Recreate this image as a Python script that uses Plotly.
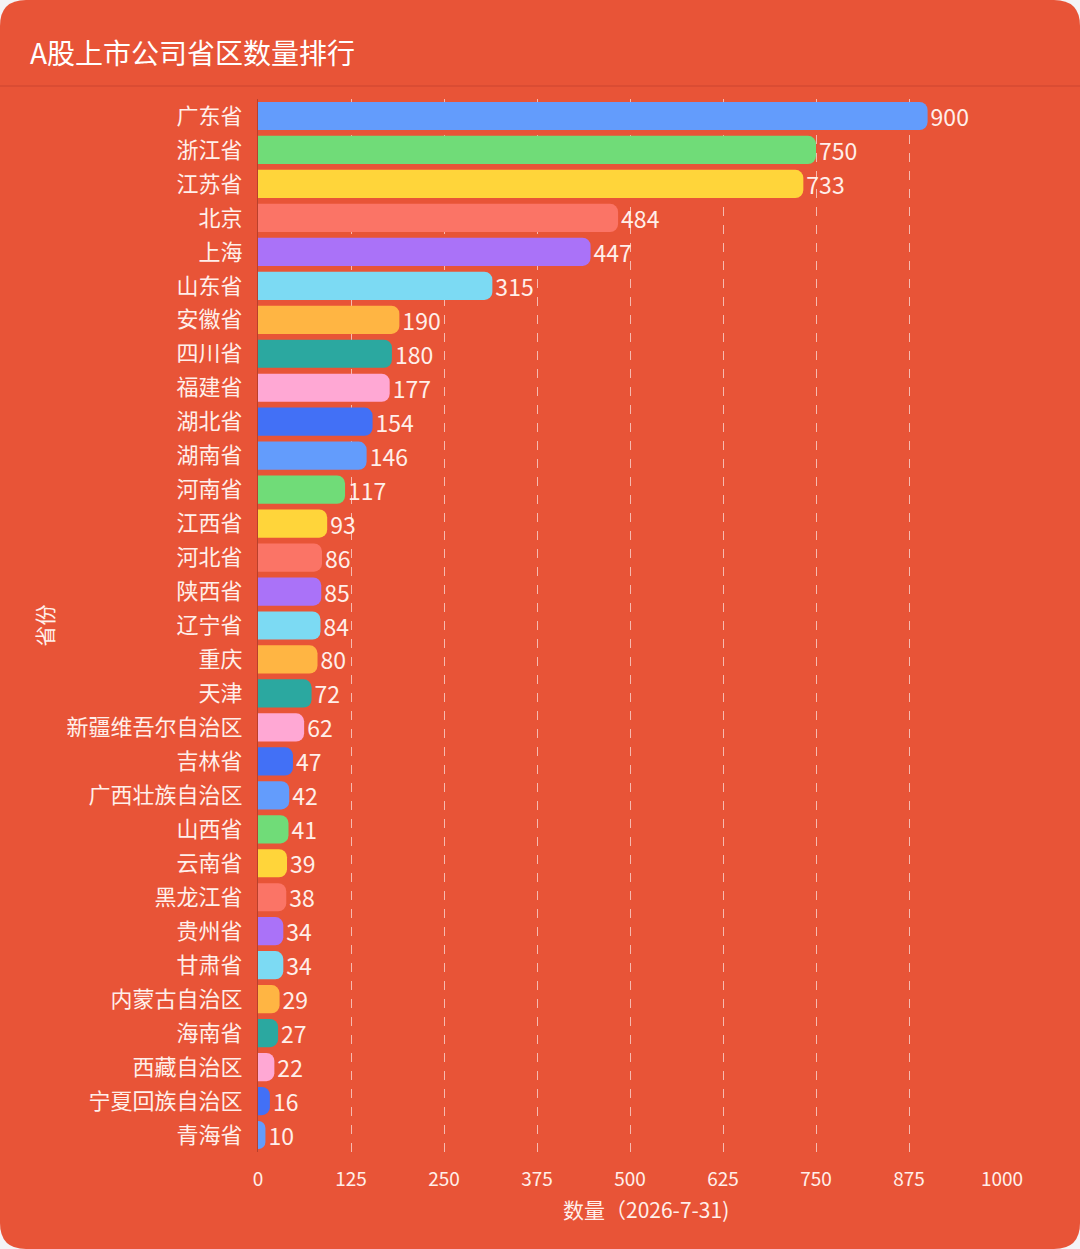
import plotly.graph_objects as go

provinces = ['广东省', '浙江省', '江苏省', '北京', '上海', '山东省', '安徽省', '四川省', '福建省', '湖北省',
             '湖南省', '河南省', '江西省', '河北省', '陕西省', '辽宁省', '重庆', '天津', '新疆维吾尔自治区', '吉林省',
             '广西壮族自治区', '山西省', '云南省', '黑龙江省', '贵州省', '甘肃省', '内蒙古自治区', '海南省', '西藏自治区',
             '宁夏回族自治区', '青海省']
counts = [900, 750, 733, 484, 447, 315, 190, 180, 177, 154,
          146, 117, 93, 86, 85, 84, 80, 72, 62, 47,
          42, 41, 39, 38, 34, 34, 29, 27, 22, 16, 10]
palette = ['#639CFC', '#70DC78', '#FFD53A', '#FB7466', '#AA72F8',
           '#7CDAF3', '#FFB543', '#2BA8A0', '#FFA8D4', '#4270F6']
x_ticks = [0, 125, 250, 375, 500, 625, 750, 875, 1000]

W, H = 1080, 1249
L, R, T, B = 258, 78, 99, 97


def px(x, y):
    # pixel position -> paper coords
    return (x - L) / (W - L - R), (H - B - y) / (H - T - B)


def card_path(r=26):
    x0, y0 = px(0, 0)
    x1, y1 = px(W, H)
    rx = r / (W - L - R)
    ry = r / (H - T - B)
    return (f'M {x0 + rx},{y0} L {x1 - rx},{y0} Q {x1},{y0} {x1},{y0 - ry} '
            f'L {x1},{y1 + ry} Q {x1},{y1} {x1 - rx},{y1} '
            f'L {x0 + rx},{y1} Q {x0},{y1} {x0},{y1 + ry} '
            f'L {x0},{y0 - ry} Q {x0},{y0} {x0 + rx},{y0} Z')


colors = [palette[i % len(palette)] for i in range(len(provinces))]
font = 'Noto Sans CJK SC, Noto Sans, sans-serif'
txt = '#FFEFEA'

fig = go.Figure()
fig.add_trace(go.Bar(x=counts, y=provinces, orientation='h',
                     marker=dict(color=colors, cornerradius=8, line=dict(width=0)),
                     text=counts, textposition='outside', cliponaxis=False, constraintext='none',
                     textfont=dict(size=23, color=txt, family=font)))

lx0, ly = px(0, 86)
lx1, _ = px(W, 86)
tx, ty = px(646, 1209)
fig.update_layout(
    width=W, height=H,
    margin=dict(l=L, r=R, t=T, b=B),
    paper_bgcolor='#F4F4F7',
    plot_bgcolor='rgba(0,0,0,0)',
    font=dict(family=font, color=txt),
    showlegend=False,
    bargap=0.17,
    title=dict(text='A股上市公司省区数量排行', x=30 / W, xanchor='left', xref='container',
               y=1 - 54 / H, yanchor='middle', yref='container',
               font=dict(size=28, color='#FFFFFF', family=font)),
    shapes=[
        dict(type='path', xref='paper', yref='paper', path=card_path(),
             fillcolor='#E85437', line=dict(width=0), layer='below'),
        dict(type='line', xref='paper', yref='paper', x0=lx0, x1=lx1, y0=ly, y1=ly,
             line=dict(color='#CC4430', width=1), layer='below'),
    ],
    annotations=[dict(text='数量（2026-7-31)', xref='paper', yref='paper', x=tx, y=ty,
                      showarrow=False, xanchor='center', yanchor='middle',
                      font=dict(size=21, color=txt, family=font))],
    xaxis=dict(range=[0, 1000], tickvals=x_ticks, showgrid=True, griddash='dash',
               gridcolor='rgba(255,255,255,0.6)', gridwidth=1, zeroline=False,
               ticks='', ticklabelstandoff=14, tickfont=dict(size=19, color=txt)),
    yaxis=dict(autorange='reversed', showgrid=False, showline=True, linecolor='#B8402C',
               linewidth=1, ticks='', ticklabelstandoff=10, tickfont=dict(size=22, color=txt),
               title=dict(text='省份', font=dict(size=21, color=txt), standoff=7)),
)

fig.write_html('out.html', config={'displayModeBar': False},
               post_script="document.body.style.margin='0';")
